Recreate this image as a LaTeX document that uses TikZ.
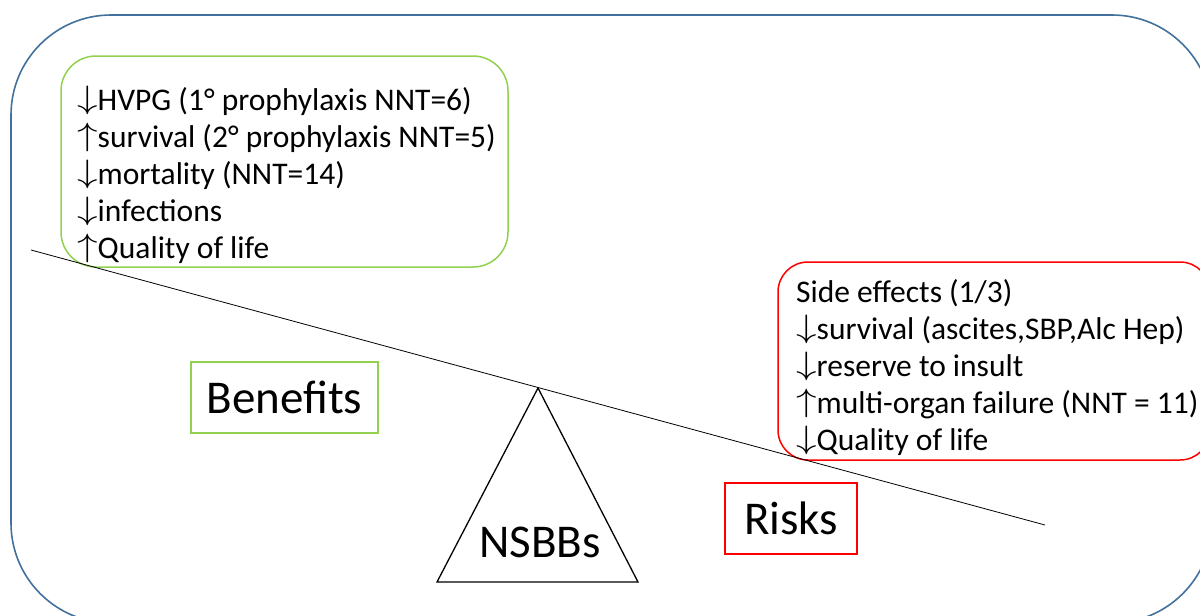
\documentclass[tikz,border=0pt]{standalone}
\usepackage{fontspec}
\setmainfont{Carlito}
\definecolor{outerblue}{HTML}{41719C}
\definecolor{bgreen}{HTML}{92D050}
\definecolor{rred}{HTML}{FF0000}
\newcommand{\dnarr}{\raisebox{0.06em}{\scalebox{1.65}[1.3]{$\downarrow$}}}
\newcommand{\uparr}{\raisebox{0.06em}{\scalebox{1.65}[1.3]{$\uparrow$}}}
\begin{document}
\begin{tikzpicture}[x=1pt,y=-1pt,
  listtxt/.style={anchor=base west,inner sep=0pt,font=\fontsize{31.5}{36}\selectfont},
  bigtxt/.style={font=\fontsize{47}{52}\selectfont,inner sep=0pt},
  labbox/.style={draw,line width=1.3pt,minimum width=#1,minimum height=71pt,inner sep=0pt},
]
\useasboundingbox (0,0) rectangle (1200,616);
% outer frame
\draw[outerblue,line width=1.6pt,rounded corners=100pt] (11,15) rectangle (1212,623);
% green list box
\draw[bgreen,line width=1.5pt,rounded corners=35pt] (61,56) rectangle (508,267);
\node[listtxt] (g1) at (77,110) {\dnarr HVPG (1° prophylaxis NNT=6)};
\node[listtxt] (g2) at (77,147) {\uparr survival (2° prophylaxis NNT=5)};
\node[listtxt] (g3) at (77,184) {\dnarr mortality (NNT=14)};
\node[listtxt] (g4) at (77,221) {\dnarr infections};
\node[listtxt] (g5) at (77,258) {\uparr Quality of life};
% red list box
\draw[rred,line width=1.5pt,rounded corners=30pt] (778,262) rectangle (1210,460);
\node[listtxt] (r1) at (796,302) {Side effects (1/3)};
\node[listtxt] (r2) at (796,339) {\dnarr survival (ascites,SBP,Alc Hep)};
\node[listtxt] (r3) at (796,376) {\dnarr reserve to insult};
\node[listtxt] (r4) at (796,413) {\uparr multi-organ failure (NNT = 11)};
\node[listtxt] (r5) at (796,450) {\dnarr Quality of life};
% beam and fulcrum
\coordinate (bl) at (31,250);
\coordinate (br) at (1045,525);
\draw[line width=0.8pt] (bl) -- (br);
\coordinate (apex) at (538,388);
\coordinate (tl) at (437,582);
\coordinate (tr) at (638,582);
\draw[line width=1.3pt] (apex) -- (tl) -- (tr) -- cycle;
\node[bigtxt] (nsbb) at (540,542) {NSBBs};
% labels
\node[labbox=187pt,draw=bgreen,bigtxt] (ben) at (284.5,397.5) {Benefits};
\node[labbox=132pt,draw=rred,bigtxt] (risk) at (791,518.5) {Risks};
\end{tikzpicture}
\end{document}
